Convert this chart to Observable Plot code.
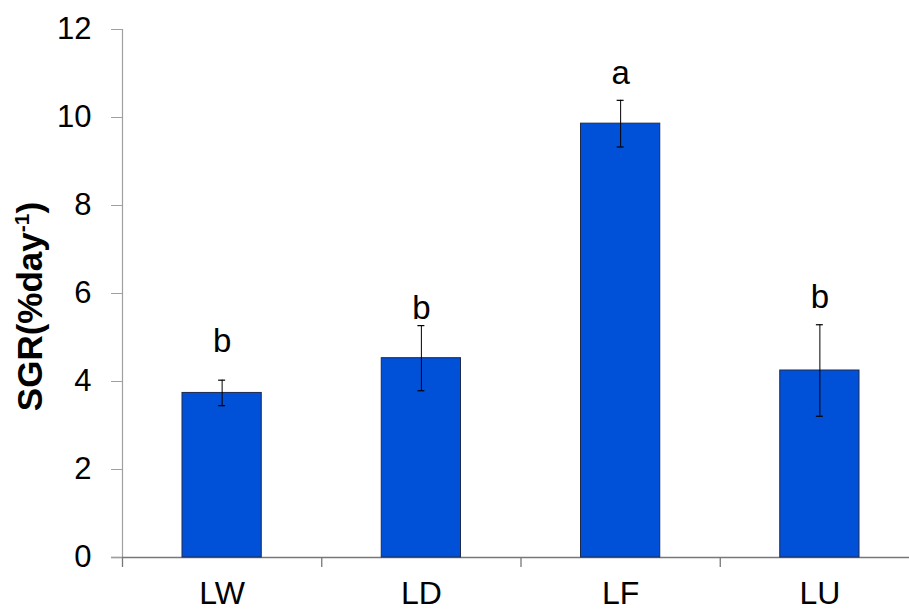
<!DOCTYPE html>
<html>
<head>
<meta charset="utf-8">
<script src="https://cdn.jsdelivr.net/npm/d3@7"></script>
<script src="https://cdn.jsdelivr.net/npm/@observablehq/plot@0.6"></script>
<style>
  html, body { margin: 0; padding: 0; background: #fff; }
  svg { display: block; }
</style>
</head>
<body>
<div id="chart"></div>
<script>
const categories = ["LW", "LD", "LF", "LU"];
const sgrMean = [3.74, 4.53, 9.86, 4.25];
const sgrError = [0.29, 0.74, 0.53, 1.04];
const groupLetters = ["b", "b", "a", "b"];
const letterY = [4.9, 5.67, 11.01, 5.9];
const yTicks = [0, 2, 4, 6, 8, 10, 12];

const data = categories.map((c, i) => ({
  cat: c, i, mean: sgrMean[i], err: sgrError[i],
  lo: sgrMean[i] - sgrError[i], hi: sgrMean[i] + sgrError[i],
  letter: groupLetters[i], ly: letterY[i]
}));

const font = "'Liberation Sans', Arial, sans-serif";

const chart = Plot.plot({
  width: 909,
  height: 611,
  marginLeft: 122,
  marginRight: 0,
  marginTop: 29,
  marginBottom: 54,
  style: { fontFamily: font, background: "#fff", overflow: "visible" },
  x: { type: "linear", domain: [0, 4], range: [122, 919] },
  y: { domain: [0, 12], range: [557, 29] },
  marks: [
    // y axis line
    Plot.ruleX([0], { y1: 0, y2: 12, stroke: "#a0a0a0", strokeWidth: 1.2 }),
    // x axis line
    Plot.ruleY([0], { x1: 0, x2: 4, insetLeft: -11, stroke: "#777", strokeWidth: 1.5 }),
    Plot.axisY({
      ticks: yTicks, tickSize: 11, tickPadding: 20, fontSize: 31,
      stroke: "#a0a0a0", label: null, color: "#000"
    }),
    // category boundary ticks
    Plot.axisX({
      ticks: [0, 1, 2, 3, 4], tickSize: 10, tickFormat: () => "",
      stroke: "#777", strokeWidth: 1.3, label: null
    }),
    // category labels
    Plot.axisX({
      ticks: [0.5, 1.5, 2.5, 3.5], tickSize: 0, tickPadding: 24, fontSize: 32,
      tickFormat: d => categories[Math.floor(d)], label: null, color: "#000"
    }),
    Plot.rectY(data, {
      x1: "i", x2: d => d.i + 1, y1: 0, y2: "mean",
      insetLeft: 60, insetRight: 60,
      fill: "#0050d8", stroke: "#1e2a4a", strokeWidth: 1
    }),
    // error bars
    Plot.ruleX(data, { x: d => d.i + 0.5, y1: "lo", y2: "hi", stroke: "#000", strokeWidth: 1 }),
    Plot.ruleY(data, { y: "hi", x1: d => d.i + 0.5, x2: d => d.i + 0.5, insetLeft: -3.5, insetRight: -3.5, stroke: "#000", strokeWidth: 1.2 }),
    Plot.ruleY(data, { y: "lo", x1: d => d.i + 0.5, x2: d => d.i + 0.5, insetLeft: -3.5, insetRight: -3.5, stroke: "#000", strokeWidth: 1.2 }),
    // significance letters
    Plot.text(data, { x: d => d.i + 0.5, y: "ly", text: "letter", fontSize: 33, fill: "#000" }),
    // y axis title
    Plot.text(["SGR(%day-1)"], {
      frameAnchor: "left", textAnchor: "middle", rotate: -90, dx: -92, dy: 13,
      fontSize: 35, fontWeight: "bold", fill: "#000", text: d => d
    })
  ]
});

// superscript for the y-axis title
chart.querySelectorAll("text").forEach(t => {
  if (t.textContent === "SGR(%day-1)") {
    const ns = "http://www.w3.org/2000/svg";
    t.textContent = "";
    const a = document.createElementNS(ns, "tspan");
    a.textContent = "SGR(%day";
    const s = document.createElementNS(ns, "tspan");
    s.textContent = "-1";
    s.setAttribute("font-size", "21");
    s.setAttribute("dy", "-13");
    const b = document.createElementNS(ns, "tspan");
    b.textContent = ")";
    b.setAttribute("dy", "13");
    t.appendChild(a); t.appendChild(s); t.appendChild(b);
  }
});

document.getElementById("chart").appendChild(chart);
</script>
</body>
</html>
